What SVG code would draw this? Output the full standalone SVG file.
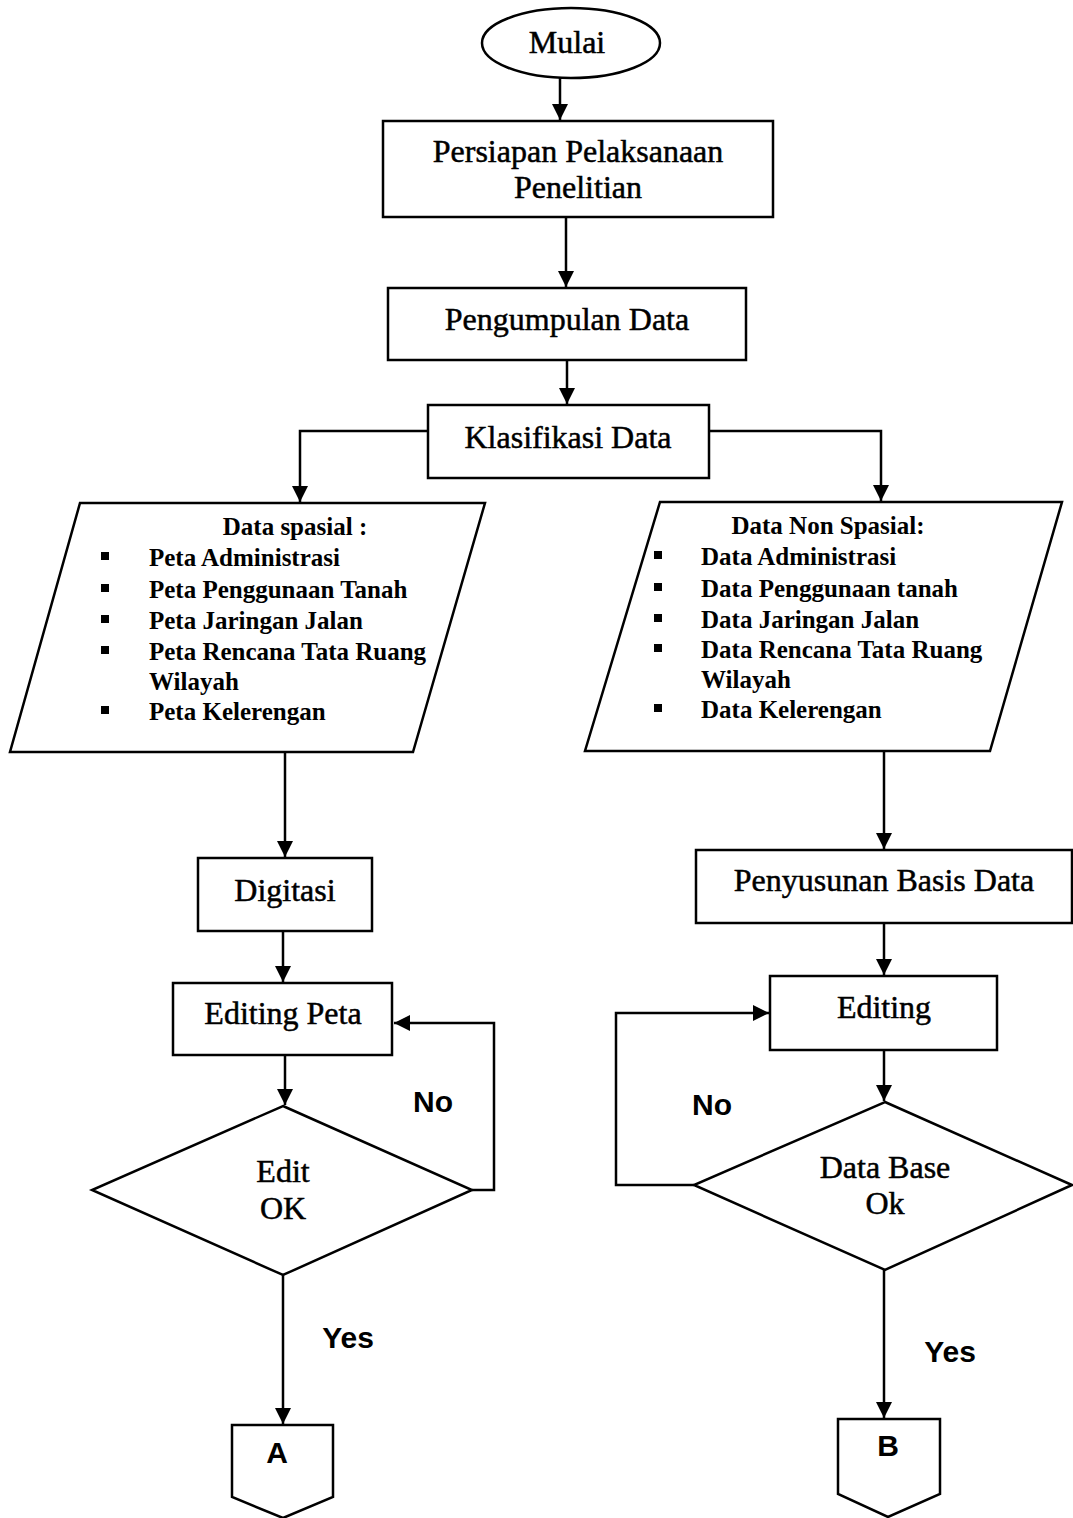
<svg xmlns="http://www.w3.org/2000/svg" width="1073" height="1518" viewBox="0 0 1073 1518">
<style>
.s{fill:#fff;stroke:#000;stroke-width:2.5}
.c{fill:none;stroke:#000;stroke-width:2.5}
.t{font-family:"Liberation Serif","Times New Roman",serif;font-size:32px;fill:#000;stroke:#000;stroke-width:0.5;text-anchor:middle}
.l{font-family:"Liberation Serif","Times New Roman",serif;font-size:25px;font-weight:bold;fill:#000}
.h{font-family:"Liberation Serif","Times New Roman",serif;font-size:25px;font-weight:bold;fill:#000;text-anchor:middle}
.a{font-family:"Liberation Sans",Arial,sans-serif;font-size:30px;font-weight:bold;fill:#000;text-anchor:middle}
</style>
<defs>
<marker id="ar" viewBox="0 0 10 10" refX="10" refY="5" markerWidth="16" markerHeight="16" markerUnits="userSpaceOnUse" orient="auto">
<path d="M0,0 L10,5 L0,10 z" fill="#000"/>
</marker>
</defs>
<g id="connectors">
<line class="c" x1="560" y1="78" x2="560" y2="120" marker-end="url(#ar)"/>
<line class="c" x1="566" y1="217" x2="566" y2="287" marker-end="url(#ar)"/>
<line class="c" x1="567" y1="360" x2="567" y2="404" marker-end="url(#ar)"/>
<polyline class="c" points="428,431 300,431 300,502" marker-end="url(#ar)"/>
<polyline class="c" points="709,431 881,431 881,501" marker-end="url(#ar)"/>
<line class="c" x1="285" y1="752" x2="285" y2="857" marker-end="url(#ar)"/>
<line class="c" x1="283" y1="931" x2="283" y2="982" marker-end="url(#ar)"/>
<line class="c" x1="285" y1="1055" x2="285" y2="1105" marker-end="url(#ar)"/>
<polyline class="c" points="472,1190 494,1190 494,1023 394,1023" marker-end="url(#ar)"/>
<line class="c" x1="283" y1="1275" x2="283" y2="1424" marker-end="url(#ar)"/>
<line class="c" x1="884" y1="751" x2="884" y2="849" marker-end="url(#ar)"/>
<line class="c" x1="884" y1="923" x2="884" y2="975" marker-end="url(#ar)"/>
<line class="c" x1="884" y1="1050" x2="884" y2="1101" marker-end="url(#ar)"/>
<polyline class="c" points="694,1185 616,1185 616,1013 769,1013" marker-end="url(#ar)"/>
<line class="c" x1="884" y1="1270" x2="884" y2="1418" marker-end="url(#ar)"/>
<text class="a" x="433" y="1112">No</text>
<text class="a" x="712" y="1115">No</text>
<text class="a" x="348" y="1348">Yes</text>
<text class="a" x="950" y="1362">Yes</text>
</g>
<g id="mulai">
<ellipse class="s" cx="571" cy="43" rx="89" ry="35"/>
<text class="t" x="567" y="53">Mulai</text>
</g>
<g id="persiapan">
<rect class="s" x="383" y="121" width="390" height="96"/>
<text class="t" x="578" y="162">Persiapan Pelaksanaan</text>
<text class="t" x="578" y="198">Penelitian</text>
</g>
<g id="pengumpulan">
<rect class="s" x="388" y="288" width="358" height="72"/>
<text class="t" x="567" y="330">Pengumpulan Data</text>
</g>
<g id="klasifikasi">
<rect class="s" x="428" y="405" width="281" height="73"/>
<text class="t" x="568" y="448">Klasifikasi Data</text>
</g>
<g id="spasial">
<polygon class="s" points="80,503 485,503 413,752 10,752"/>
<text class="h" x="295" y="535">Data spasial :</text>
<g fill="#000">
<rect x="101" y="552" width="8" height="8"/>
<rect x="101" y="584" width="8" height="8"/>
<rect x="101" y="615" width="8" height="8"/>
<rect x="101" y="646" width="8" height="8"/>
<rect x="101" y="706" width="8" height="8"/>
</g>
<text class="l" x="149" y="566">Peta Administrasi</text>
<text class="l" x="149" y="598">Peta Penggunaan Tanah</text>
<text class="l" x="149" y="629">Peta Jaringan Jalan</text>
<text class="l" x="149" y="660">Peta Rencana Tata Ruang</text>
<text class="l" x="149" y="690">Wilayah</text>
<text class="l" x="149" y="720">Peta Kelerengan</text>
</g>
<g id="nonspasial">
<polygon class="s" points="660,502 1062,502 990,751 585,751"/>
<text class="h" x="828" y="534">Data Non Spasial:</text>
<g fill="#000">
<rect x="654" y="551" width="8" height="8"/>
<rect x="654" y="583" width="8" height="8"/>
<rect x="654" y="614" width="8" height="8"/>
<rect x="654" y="644" width="8" height="8"/>
<rect x="654" y="704" width="8" height="8"/>
</g>
<text class="l" x="701" y="565">Data Administrasi</text>
<text class="l" x="701" y="597">Data Penggunaan tanah</text>
<text class="l" x="701" y="628">Data Jaringan Jalan</text>
<text class="l" x="701" y="658">Data Rencana Tata Ruang</text>
<text class="l" x="701" y="688">Wilayah</text>
<text class="l" x="701" y="718">Data Kelerengan</text>
</g>
<g id="digitasi">
<rect class="s" x="198" y="858" width="174" height="73"/>
<text class="t" x="285" y="901">Digitasi</text>
</g>
<g id="editingpeta">
<rect class="s" x="173" y="983" width="219" height="72"/>
<text class="t" x="283" y="1024">Editing Peta</text>
</g>
<g id="editok">
<polygon class="s" points="283,1106 472,1190 283,1275 92,1190"/>
<text class="t" x="283" y="1182">Edit</text>
<text class="t" x="283" y="1219">OK</text>
</g>
<g id="conA">
<polygon class="s" points="232,1425 333,1425 333,1497 283,1518 232,1497"/>
<text class="a" x="277" y="1463">A</text>
</g>
<g id="penyusunan">
<rect class="s" x="696" y="850" width="376" height="73"/>
<text class="t" x="884" y="891">Penyusunan Basis Data</text>
</g>
<g id="editing">
<rect class="s" x="770" y="976" width="227" height="74"/>
<text class="t" x="884" y="1018">Editing</text>
</g>
<g id="databaseok">
<polygon class="s" points="885,1102 1072,1185 885,1270 694,1185"/>
<text class="t" x="885" y="1178">Data Base</text>
<text class="t" x="885" y="1214">Ok</text>
</g>
<g id="conB">
<polygon class="s" points="838,1419 940,1419 940,1494 888,1517 838,1494"/>
<text class="a" x="888" y="1456">B</text>
</g>
</svg>
